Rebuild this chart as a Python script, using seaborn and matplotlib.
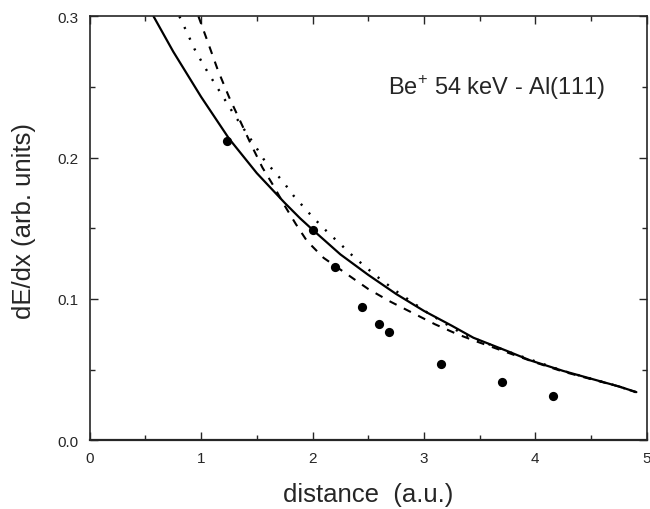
import matplotlib
matplotlib.use("Agg")
import matplotlib.pyplot as plt
import seaborn as sns
import pandas as pd
from matplotlib.ticker import MultipleLocator, FormatStrFormatter

# measured points
exp_x = [1.231, 2.005, 2.202, 2.440, 2.593, 2.682, 3.155, 3.702, 4.159]
exp_y = [0.212, 0.1487, 0.1228, 0.0942, 0.0825, 0.0765, 0.0538, 0.0410, 0.0309]

# solid curve
solid_x = [0.573, 0.75, 1.0, 1.25, 1.5, 1.75, 1.889, 2.0, 2.25, 2.5,
           2.75, 3.0, 3.25, 3.444, 3.75, 3.953, 4.25, 4.5, 4.75, 4.907]
solid_y = [0.300, 0.275, 0.243, 0.2135, 0.189, 0.168, 0.157, 0.149, 0.1315, 0.117,
           0.1035, 0.0915, 0.081, 0.0725, 0.063, 0.0565, 0.049, 0.0435, 0.038, 0.034]

# dashed curve
dash_x = [0.976, 1.05, 1.15, 1.25, 1.35, 1.45, 1.55, 1.65, 1.75, 1.85, 1.95, 2.1, 2.3, 2.5,
          2.7, 2.9, 3.1, 3.3, 3.45, 3.75, 4.0, 4.25, 4.5, 4.75, 4.9]
dash_y = [0.300, 0.284, 0.262, 0.243, 0.226, 0.209, 0.193, 0.180, 0.166, 0.153, 0.141, 0.129,
          0.118, 0.107, 0.098, 0.090, 0.082, 0.075, 0.0705, 0.062, 0.055, 0.0485, 0.0432, 0.038, 0.034]

# dotted curve
dot_x = [0.805, 0.886, 0.94, 0.997, 1.06, 1.126, 1.3, 1.485, 1.56, 1.65, 1.74, 1.83, 2.0,
         2.143, 2.25, 2.36, 2.47, 2.577, 2.75, 2.92, 3.03, 3.139, 3.25, 3.355, 3.5, 3.75,
         4.0, 4.25, 4.5, 4.75, 4.9]
dot_y = [0.300, 0.2864, 0.277, 0.269, 0.2604, 0.252, 0.230, 0.2084, 0.199, 0.1907, 0.1825, 0.173, 0.158,
         0.1466, 0.1388, 0.1305, 0.123, 0.1159, 0.1055, 0.0963, 0.0903, 0.0851, 0.0797, 0.075, 0.0705, 0.0628,
         0.0558, 0.049, 0.0435, 0.038, 0.034]

x_ticks = [0, 1, 2, 3, 4, 5]
y_ticks = [0.0, 0.1, 0.2, 0.3]
annot = "Be$^{+}$ 54 keV - Al(111)"
xlabel = "distance  (a.u.)"
ylabel = "dE/dx (arb. units)"

sns.set_style("ticks")
plt.rcParams['font.family'] = ['Liberation Sans', 'DejaVu Sans']
plt.rcParams['mathtext.fontset'] = 'custom'
plt.rcParams['mathtext.rm'] = 'Liberation Sans'

fig = plt.figure(figsize=(6.5, 5.1), dpi=100)
ax = fig.add_axes([0.138, 0.135, 0.857, 0.831])

sns.lineplot(x=solid_x, y=solid_y, ax=ax, color="black", lw=1.6, sort=False, estimator=None)
sns.lineplot(x=dash_x, y=dash_y, ax=ax, color="black", lw=1.5, sort=False, estimator=None).lines[-1].set_dashes([3.8, 3.9])
sns.lineplot(x=dot_x, y=dot_y, ax=ax, color="black", lw=1.7, sort=False, estimator=None).lines[-1].set_dashes([0.9, 4.1])
sns.scatterplot(x=exp_x, y=exp_y, ax=ax, color="black", s=44, edgecolor="black", linewidth=0, zorder=5)

ax.set_xlim(0, 5)
ax.set_ylim(0, 0.3)
ax.set_xticks(x_ticks)
ax.set_yticks(y_ticks)
ax.yaxis.set_major_formatter(FormatStrFormatter('%.1f'))
ax.xaxis.set_minor_locator(MultipleLocator(0.5))
ax.yaxis.set_minor_locator(MultipleLocator(0.05))
ax.tick_params(which='both', direction='in', top=True, right=True, width=1.0)
ax.tick_params(which='major', length=6)
ax.tick_params(which='minor', length=3.5)
ax.tick_params(axis='both', which='major', pad=8, labelsize=11)
for sp in ax.spines.values():
    sp.set_linewidth(1.2)
    sp.set_visible(True)
ax.spines['bottom'].set_linewidth(1.6)

ax.text(2.68, 0.25, annot, fontsize=17, va='center', ha='left')
ax.set_xlabel(xlabel, fontsize=18.5)
ax.set_ylabel(ylabel, fontsize=18.5)
ax.xaxis.label.set_va('center')
ax.yaxis.label.set_va('center')
ax.xaxis.set_label_coords(0.5, -0.127)
ax.yaxis.set_label_coords(-0.118, 0.519)

fig.savefig("out.png", dpi=100)
